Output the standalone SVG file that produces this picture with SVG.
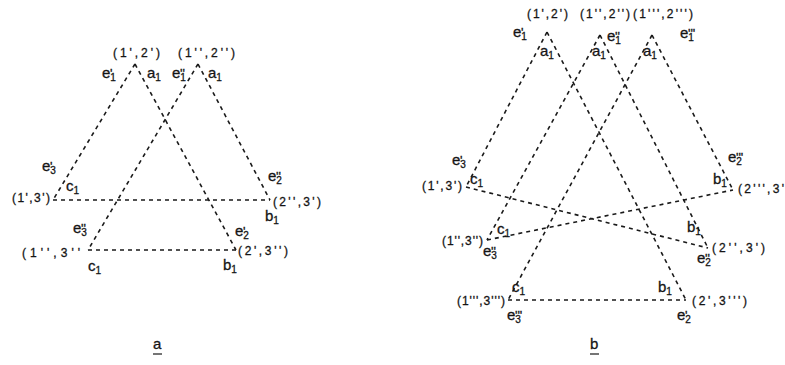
<svg xmlns="http://www.w3.org/2000/svg" width="785" height="365" viewBox="0 0 785 365">
<style>
text{font-family:"Liberation Sans",Arial,sans-serif;fill:#151515;stroke:#151515;stroke-width:0.3}
.pr{font-size:12px}
.l{font-size:15px}
.s{font-size:10px}
.p{font-size:13px}
.e{stroke:#1a1a1a;stroke-width:1.6;stroke-dasharray:4 4;fill:none}
.u{stroke:#1a1a1a;stroke-width:1.2}
</style>
<rect width="785" height="365" fill="#fff"/>
<g id="connectors">
<line class="e" x1="135" y1="64" x2="53" y2="200"/>
<line class="e" x1="135" y1="64" x2="236" y2="250"/>
<line class="e" x1="198" y1="64" x2="88" y2="250"/>
<line class="e" x1="198" y1="64" x2="270" y2="200"/>
<line class="e" x1="53" y1="200" x2="270" y2="200"/>
<line class="e" x1="88" y1="250" x2="236" y2="250"/>
<line class="e" x1="547" y1="32" x2="466" y2="187"/>
<line class="e" x1="547" y1="32" x2="686" y2="300"/>
<line class="e" x1="600" y1="35" x2="487" y2="240"/>
<line class="e" x1="600" y1="35" x2="708" y2="248"/>
<line class="e" x1="652" y1="35" x2="508" y2="300"/>
<line class="e" x1="652" y1="35" x2="733" y2="190"/>
<line class="e" x1="466" y1="187" x2="708" y2="248"/>
<line class="e" x1="487" y1="240" x2="733" y2="190"/>
<line class="e" x1="508" y1="300" x2="686" y2="300"/>
</g>
<g id="a-12p">
<text class="pr" x="113" y="57" textLength="47" lengthAdjust="spacing">(1',2')</text>
<text class="l" x="102" y="78">e<tspan class="s" dy="3">1</tspan><tspan class="p" dx="-6" dy="-3">'</tspan></text>
<text class="l" x="147" y="78">a<tspan class="s" dy="3">1</tspan></text>
</g>
<g id="a-12pp">
<text class="pr" x="178" y="57" textLength="57" lengthAdjust="spacing">(1'',2'')</text>
<text class="l" x="172" y="78">e<tspan class="s" dy="3">1</tspan><tspan class="p" dx="-6" dy="-3">''</tspan></text>
<text class="l" x="208" y="78">a<tspan class="s" dy="3">1</tspan></text>
</g>
<g id="a-13p">
<text class="pr" x="12" y="202" textLength="38" lengthAdjust="spacing">(1',3')</text>
<text class="l" x="42" y="171">e<tspan class="s" dy="3">3</tspan><tspan class="p" dx="-6" dy="-3">'</tspan></text>
<text class="l" x="66" y="191">c<tspan class="s" dy="3">1</tspan></text>
</g>
<g id="a-23p">
<text class="pr" x="273" y="206" textLength="48" lengthAdjust="spacing">(2'',3')</text>
<text class="l" x="268" y="181">e<tspan class="s" dy="3">2</tspan><tspan class="p" dx="-6" dy="-3">''</tspan></text>
<text class="l" x="265" y="221">b<tspan class="s" dy="3">1</tspan></text>
</g>
<g id="a-13pp">
<text class="pr" x="22" y="257" textLength="58" lengthAdjust="spacing">(1'',3''</text>
<text class="l" x="73" y="233">e<tspan class="s" dy="3">3</tspan><tspan class="p" dx="-6" dy="-3">''</tspan></text>
<text class="l" x="88" y="271">c<tspan class="s" dy="3">1</tspan></text>
</g>
<g id="a-23pp">
<text class="pr" x="238" y="255" textLength="50" lengthAdjust="spacing">(2',3'')</text>
<text class="l" x="235" y="236">e<tspan class="s" dy="3">2</tspan><tspan class="p" dx="-6" dy="-3">'</tspan></text>
<text class="l" x="223" y="270">b<tspan class="s" dy="3">1</tspan></text>
</g>
<g id="b-12p">
<text class="pr" x="527" y="18" textLength="41" lengthAdjust="spacing">(1',2')</text>
<text class="l" x="513" y="37">e<tspan class="s" dy="3">1</tspan><tspan class="p" dx="-6" dy="-3">'</tspan></text>
<text class="l" x="540" y="56">a<tspan class="s" dy="3">1</tspan></text>
</g>
<g id="b-12pp">
<text class="pr" x="580" y="18" textLength="50" lengthAdjust="spacing">(1'',2'')</text>
<text class="l" x="607" y="41">e<tspan class="s" dy="3">1</tspan><tspan class="p" dx="-6" dy="-3">''</tspan></text>
<text class="l" x="592" y="56">a<tspan class="s" dy="3">1</tspan></text>
</g>
<g id="b-12ppp">
<text class="pr" x="633" y="18" textLength="60" lengthAdjust="spacing">(1''',2''')</text>
<text class="l" x="680" y="38">e<tspan class="s" dy="3">1</tspan><tspan class="p" dx="-6" dy="-3">'''</tspan></text>
<text class="l" x="643" y="56">a<tspan class="s" dy="3">1</tspan></text>
</g>
<g id="b-13p">
<text class="pr" x="422" y="190" textLength="40" lengthAdjust="spacing">(1',3')</text>
<text class="l" x="452" y="165">e<tspan class="s" dy="3">3</tspan><tspan class="p" dx="-6" dy="-3">'</tspan></text>
<text class="l" x="470" y="184">c<tspan class="s" dy="3">1</tspan></text>
</g>
<g id="b-13pp">
<text class="pr" x="442" y="245" textLength="41" lengthAdjust="spacing">(1'',3'')</text>
<text class="l" x="497" y="234">c<tspan class="s" dy="3">1</tspan></text>
<text class="l" x="483" y="256">e<tspan class="s" dy="3">3</tspan><tspan class="p" dx="-6" dy="-3">''</tspan></text>
</g>
<g id="b-13ppp">
<text class="pr" x="457" y="305" textLength="48" lengthAdjust="spacing">(1''',3''')</text>
<text class="l" x="512" y="292">c<tspan class="s" dy="3">1</tspan></text>
<text class="l" x="507" y="320">e<tspan class="s" dy="3">3</tspan><tspan class="p" dx="-6" dy="-3">'''</tspan></text>
</g>
<g id="b-23pp">
<text class="pr" x="738" y="193" textLength="46" lengthAdjust="spacing">(2''',3'</text>
<text class="l" x="728" y="162">e<tspan class="s" dy="3">2</tspan><tspan class="p" dx="-6" dy="-3">'''</tspan></text>
<text class="l" x="713" y="184">b<tspan class="s" dy="3">1</tspan></text>
</g>
<g id="b-23p">
<text class="pr" x="712" y="252" textLength="53" lengthAdjust="spacing">(2'',3')</text>
<text class="l" x="687" y="232">b<tspan class="s" dy="3">1</tspan></text>
<text class="l" x="697" y="263">e<tspan class="s" dy="3">2</tspan><tspan class="p" dx="-6" dy="-3">''</tspan></text>
</g>
<g id="b-23ppp">
<text class="pr" x="692" y="305" textLength="55" lengthAdjust="spacing">(2',3''')</text>
<text class="l" x="658" y="292">b<tspan class="s" dy="3">1</tspan></text>
<text class="l" x="677" y="320">e<tspan class="s" dy="3">2</tspan><tspan class="p" dx="-6" dy="-3">'</tspan></text>
</g>
<g id="captions">
<text class="l" x="153" y="349">a</text>
<line class="u" x1="153" y1="354" x2="162" y2="354"/>
<text class="l" x="590" y="349">b</text>
<line class="u" x1="590" y1="354" x2="599" y2="354"/>
</g>
</svg>
